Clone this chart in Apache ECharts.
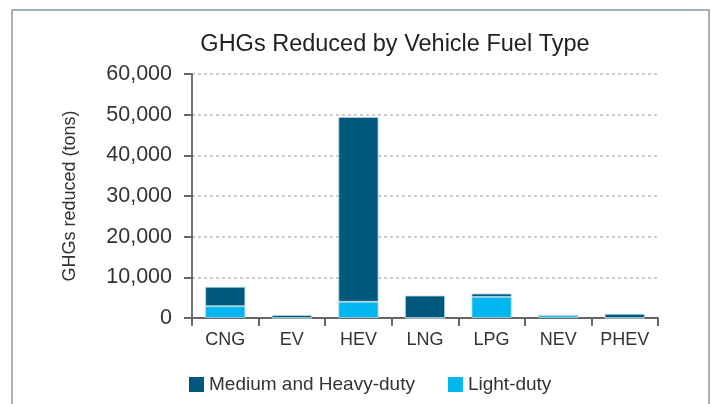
<!DOCTYPE html>
<html>
<head>
<meta charset="utf-8">
<title>GHGs Reduced by Vehicle Fuel Type</title>
<script src="https://cdn.jsdelivr.net/npm/echarts@6/dist/echarts.min.js"></script>
<style>
  html, body { margin: 0; padding: 0; background: #fff; }
  #chart { width: 711px; height: 404px; }
</style>
</head>
<body>
<div id="chart"></div>
<script>
// values (tons)
const fuelTypes = ['CNG', 'EV', 'HEV', 'LNG', 'LPG', 'NEV', 'PHEV'];
const lightDuty = [2900, 0, 4000, 0, 5200, 650, 0];
const mediumHeavy = [4750, 700, 45400, 5500, 800, 0, 1000];

const FONT = '"Liberation Sans", Arial, sans-serif';
const DARK = '#00587c';
const LIGHT = '#00b7ef';

let chart = echarts.init(document.getElementById('chart'), null, { renderer: 'canvas' });

let option = {
  animation: false,
  title: {
    text: 'GHGs Reduced by Vehicle Fuel Type',
    left: 390,
    textAlign: 'center',
    top: 28,
    textStyle: { fontFamily: FONT, fontSize: 23.5, fontWeight: 'normal', color: '#222' },
  },
  // outer frame of the figure
  graphic: [
    {
      type: 'rect',
      shape: { x: 12, y: 10, width: 697, height: 420 },
      style: { fill: 'none', stroke: '#8a98a6', lineWidth: 1.5 },
      silent: true,
    },
  ],
  legend: {
    data: ['Medium and Heavy-duty', 'Light-duty'],
    top: 370,
    left: 184,
    itemWidth: 15,
    itemHeight: 15,
    itemGap: 33,
    icon: 'rect',
    itemStyle: { borderWidth: 0 },
    textStyle: { fontFamily: FONT, fontSize: 19, color: '#333' },
  },
  grid: { left: 192, right: 53, top: 74, bottom: 86 },
  xAxis: {
    type: 'category',
    data: fuelTypes,
    axisLine: { lineStyle: { color: '#666', width: 2 } },
    axisTick: { show: true, length: 8, lineStyle: { color: '#666', width: 2 } },
    axisLabel: { fontFamily: FONT, fontSize: 18, color: '#333', margin: 13 },
  },
  yAxis: {
    type: 'value',
    min: 0,
    max: 60000,
    interval: 10000,
    name: 'GHGs reduced (tons)',
    nameLocation: 'middle',
    nameGap: 113,
    nameTextStyle: { fontFamily: FONT, fontSize: 18, color: '#333' },
    axisLine: { show: true, lineStyle: { color: '#444', width: 1.5 } },
    axisTick: { show: true, length: 8, lineStyle: { color: '#666', width: 2 } },
    axisLabel: {
      fontFamily: FONT,
      fontSize: 21.5,
      color: '#333',
      margin: 20,
      formatter: v => v.toLocaleString('en-US'),
    },
    splitLine: { lineStyle: { color: '#bbb', type: [3, 3], width: 1.5 } },
  },
  series: [
    {
      name: 'Light-duty',
      type: 'bar',
      stack: 'total',
      barWidth: 40,
      data: lightDuty,
      itemStyle: { color: LIGHT, borderColor: '#b3d4e2', borderWidth: 0.8 },
    },
    {
      name: 'Medium and Heavy-duty',
      type: 'bar',
      stack: 'total',
      barWidth: 40,
      data: mediumHeavy,
      itemStyle: { color: DARK, borderColor: '#b3d4e2', borderWidth: 0.8 },
    },
  ],
};

chart.setOption(option);
</script>
</body>
</html>
